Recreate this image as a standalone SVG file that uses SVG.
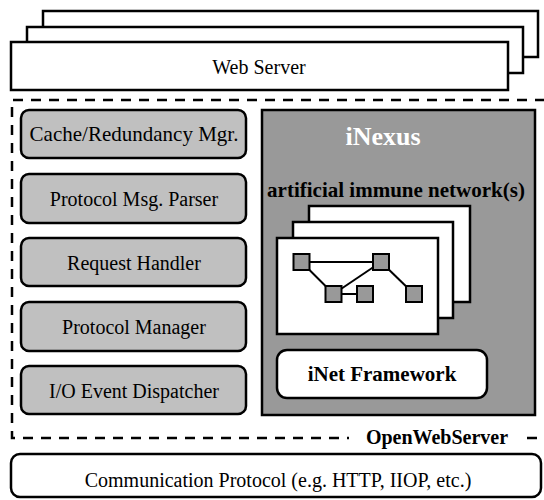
<svg xmlns="http://www.w3.org/2000/svg" width="544" height="500" viewBox="0 0 544 500">
  <style>
    .sheet { fill: #fff; stroke: #000; stroke-width: 2.5; }
    .module { fill: #c0c0c0; stroke: #000; stroke-width: 2.5; }
    .lbl { font-size: 20px; text-anchor: middle; fill: #000; }
    .bold { font-weight: bold; }
    .dash { fill: none; stroke: #000; stroke-width: 2.5; stroke-dasharray: 10 8; }
    .nd { fill: #999; stroke: #000; stroke-width: 2; }
    .edge { stroke: #000; stroke-width: 2; }
  </style>

  <!-- Web server stack -->
  <g id="web-server">
    <rect class="sheet" x="43" y="11" width="495" height="46"/>
    <rect class="sheet" x="27" y="27" width="496" height="46"/>
    <rect class="sheet" x="11" y="42" width="497" height="48"/>
    <text class="lbl" font-family="Liberation Serif, serif" x="259" y="74">Web Server</text>
  </g>

  <!-- OpenWebServer boundary -->
  <g id="openwebserver">
    <path class="dash" d="M 545 100 H 12 V 438 H 545"/>
    <rect x="349" y="428" width="178" height="20" fill="#fff"/>
    <text class="lbl bold" font-family="Liberation Serif, serif" x="437" y="444" font-size="21">OpenWebServer</text>
  </g>

  <!-- Server modules -->
  <g id="cache-mgr">
    <rect class="module" x="21" y="110" width="225" height="48" rx="8"/>
    <text class="lbl" font-family="Liberation Serif, serif" x="134" y="141" style="font-size:21px">Cache/Redundancy Mgr.</text>
  </g>
  <g id="msg-parser">
    <rect class="module" x="21" y="174" width="225" height="49" rx="8"/>
    <text class="lbl" font-family="Liberation Serif, serif" x="134" y="205.5">Protocol Msg. Parser</text>
  </g>
  <g id="request-handler">
    <rect class="module" x="21" y="238" width="225" height="48" rx="8"/>
    <text class="lbl" font-family="Liberation Serif, serif" x="134" y="269.5">Request Handler</text>
  </g>
  <g id="protocol-manager">
    <rect class="module" x="21" y="302" width="225" height="49" rx="8"/>
    <text class="lbl" font-family="Liberation Serif, serif" x="134" y="333.5">Protocol Manager</text>
  </g>
  <g id="io-dispatcher">
    <rect class="module" x="21" y="366" width="225" height="48" rx="8"/>
    <text class="lbl" font-family="Liberation Serif, serif" x="134" y="397.5">I/O Event Dispatcher</text>
  </g>

  <!-- iNexus -->
  <g id="inexus">
    <rect x="262" y="110" width="273" height="305" fill="#999" stroke="#000" stroke-width="2.5"/>
    <text class="lbl bold" font-family="Liberation Serif, serif" x="383" y="145" style="font-size:26px;fill:#fff">iNexus</text>
    <text class="lbl bold" font-family="Liberation Serif, serif" x="396" y="197" style="font-size:21px">artificial immune network(s)</text>
  </g>

  <!-- Immune network sheets -->
  <g id="immune-networks">
    <rect class="sheet" x="309" y="206" width="161" height="96"/>
    <rect class="sheet" x="293" y="222" width="160" height="96"/>
    <rect class="sheet" x="277" y="238" width="161" height="96"/>
  </g>

  <g id="network-links">
    <line class="edge" x1="301.5" y1="262" x2="381" y2="262"/>
    <line class="edge" x1="301.5" y1="262" x2="333.5" y2="294"/>
    <line class="edge" x1="333.5" y1="294" x2="381" y2="262"/>
    <line class="edge" x1="333.5" y1="294" x2="365" y2="294"/>
    <line class="edge" x1="381" y1="262" x2="414" y2="294"/>
  </g>
  <g id="cell-a"><rect class="nd" x="293.5" y="254" width="16" height="16"/></g>
  <g id="cell-b"><rect class="nd" x="373" y="254" width="16" height="16"/></g>
  <g id="cell-c"><rect class="nd" x="325.5" y="286" width="16" height="16"/></g>
  <g id="cell-d"><rect class="nd" x="357" y="286" width="16" height="16"/></g>
  <g id="cell-e"><rect class="nd" x="406" y="286" width="16" height="16"/></g>

  <g id="inet-framework">
    <rect class="sheet" x="277" y="350" width="210" height="48" rx="10"/>
    <text class="lbl bold" font-family="Liberation Serif, serif" x="382" y="381" style="font-size:21px">iNet Framework</text>
  </g>

  <!-- Transport layer -->
  <g id="comm-protocol">
    <rect class="sheet" x="11" y="454" width="530" height="43" rx="9"/>
    <text class="lbl" font-family="Liberation Serif, serif" x="278" y="486.5">Communication Protocol (e.g. HTTP, IIOP, etc.)</text>
  </g>
</svg>
